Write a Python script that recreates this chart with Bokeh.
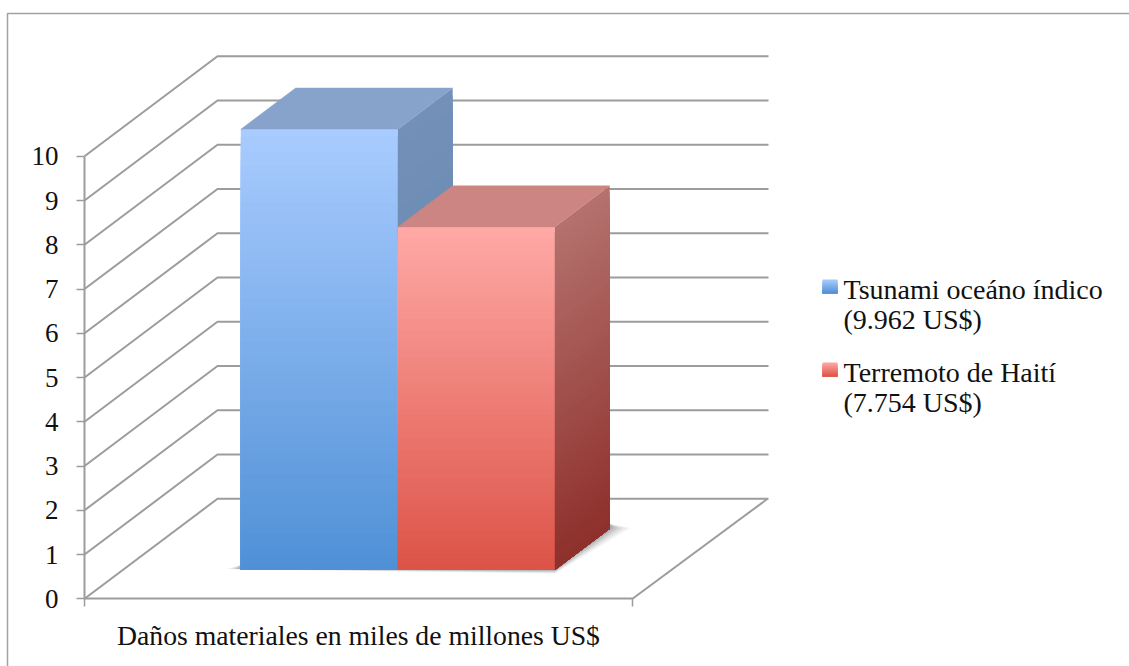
import numpy as np
from bokeh.core.properties import value
from bokeh.embed import file_html
from bokeh.models import FixedTicker, Range1d
from bokeh.plotting import figure
from bokeh.resources import INLINE

# Chart values
series_names = ["Tsunami oceáno índico", "Terremoto de Haití"]
series_amounts = ["(9.962 US$)", "(7.754 US$)"]
series_values = [9.962, 7.754]
category_label = "Daños materiales en miles de millones US$"
y_ticks = [0, 1, 2, 3, 4, 5, 6, 7, 8, 9, 10]

# Layout: pixel scale of the plotting frame
W, H = 1129, 666
PX_X0, PX_Y0 = 84.0, 598.3
PX_PER_X, PX_PER_Y = 548.0, 44.25
FONT = "Liberation Serif"
GRID = "#9c9c9c"
TEXT = "#111111"


def fx(px):
    return (np.asarray(px, dtype=float) - PX_X0) / PX_PER_X


def fy(py):
    return (PX_Y0 - np.asarray(py, dtype=float)) / PX_PER_Y


# Oblique projection of the box depth
DEPTH_X = 133.0 / PX_PER_X
DEPTH_Y = 100.0 / PX_PER_Y
BACK_RIGHT = 1 + 135.0 / PX_PER_X
BAR_LEFT = fx(202.0)
BAR_WIDTH = 157.0 / PX_PER_X
BAR_D0, BAR_D1 = 0.288, 0.70


def hex2rgb(c):
    return np.array([int(c[i:i + 2], 16) for i in (1, 3, 5)], dtype=float)


def mix(a, b, t):
    r = hex2rgb(a) * (1 - t) + hex2rgb(b) * t
    return "#%02x%02x%02x" % tuple(int(round(v)) for v in r)


def proj(x, y, d):
    return x + d * DEPTH_X, y + d * DEPTH_Y


p = figure(
    width=W, height=H, output_backend="svg", toolbar_location=None,
    x_range=Range1d(float(fx(0)), float(fx(W))),
    y_range=Range1d(float(fy(H)), float(fy(0))),
    min_border=0, outline_line_color=None, background_fill_color="white",
    border_fill_color="white",
)
p.grid.visible = False

# Real axes pinned to the front corner of the box
yaxis = p.yaxis[0]
yaxis.fixed_location = 0
yaxis.ticker = FixedTicker(ticks=y_ticks)
yaxis.bounds = (0, 10)
yaxis.axis_line_color = GRID
yaxis.axis_line_width = 2
yaxis.major_tick_line_color = GRID
yaxis.major_tick_line_width = 1.5
yaxis.major_tick_in = 0
yaxis.major_tick_out = 8
yaxis.minor_tick_line_color = None
yaxis.major_label_text_font = FONT
yaxis.major_label_text_font_size = "27px"
yaxis.major_label_text_color = TEXT
yaxis.major_label_standoff = 18

xaxis = p.xaxis[0]
xaxis.fixed_location = 0
xaxis.ticker = FixedTicker(ticks=[0, 1])
xaxis.major_label_overrides = {0: "", 1: ""}
xaxis.bounds = (0, 1)
xaxis.axis_line_color = GRID
xaxis.axis_line_width = 2
xaxis.major_tick_line_color = GRID
xaxis.major_tick_line_width = 1.5
xaxis.major_tick_in = 0
xaxis.major_tick_out = 8
xaxis.minor_tick_line_color = None

# Outer chart border
p.line(fx([7, 7, W]), fy([H, 13, 13]), line_color="#a2a2a2", line_width=1.5)

# Side wall and back wall grid lines, one per tick
for t in y_ticks:
    bx, by = proj(0.0, float(t), 1.0)
    p.line([0, bx, BACK_RIGHT + 1 / PX_PER_X], [t, by, by], line_color=GRID, line_width=2)

# Right edge of the floor
p.line([1, BACK_RIGHT], [0, DEPTH_Y], line_color=GRID, line_width=2)

# Soft contact shadow on the floor
for i, alpha in zip(range(5), [0.06, 0.08, 0.10, 0.14, 0.18]):
    grow = (5 - i) * 3.0
    x0 = BAR_LEFT
    x1 = BAR_LEFT + 2 * BAR_WIDTH
    ax, ay = proj(x0, 0.0, BAR_D0)
    bx, by = proj(x1, 0.0, BAR_D0)
    cx, cy = proj(x1, 0.0, BAR_D1)
    p.patch(
        [ax - grow / PX_PER_X, bx, cx + grow * 1.4 / PX_PER_X, cx, ax],
        [ay + 0.02, by - grow * 0.25 / PX_PER_Y, cy + 0.02, cy + 5 / PX_PER_Y, ay + 5 / PX_PER_Y],
        fill_color="#555555", fill_alpha=alpha, line_color=None,
    )

# Colour stops of each box: front top/bottom, lid, side top/bottom
palettes = [
    ("#a9ccff", "#4f90d6", "#87a3cc", "#7390b8", "#5f85ad"),
    ("#ffa9a6", "#dc5347", "#cc8582", "#b4726e", "#8e2f2b"),
]

# Boxes: each gradient band runs down to the floor and the next one paints over it,
# which keeps the faces free of seams between bands
BANDS = 60
for i, (val, pal) in enumerate(zip(series_values, palettes)):
    x0 = BAR_LEFT + i * BAR_WIDTH
    x1 = x0 + BAR_WIDTH
    front_top, front_bot, lid, side_top, side_bot = pal
    edges = np.linspace(val, 0.0, BANDS + 1)
    ax, ay = proj(x0, 0.0, BAR_D0)
    bx, by = proj(x1, 0.0, BAR_D0)
    ex, ey = proj(x1, 0.0, BAR_D1)
    for k in range(BANDS):
        t = (k + 0.5) / BANDS
        y_hi = edges[k]
        cx, cy = proj(x1, y_hi, BAR_D0)
        dx, dy = proj(x0, y_hi, BAR_D0)
        p.patch([ax, bx, cx, dx], [ay, by, cy, dy], fill_color=mix(front_top, front_bot, t), line_color=None)
        gx, gy = proj(x1, y_hi, BAR_D1)
        p.patch([bx, ex, gx, cx], [by, ey, gy, cy], fill_color=mix(side_top, side_bot, t), line_color=None)
    tx0, ty0 = proj(x0, val, BAR_D0)
    tx1, ty1 = proj(x1, val, BAR_D0)
    tx2, ty2 = proj(x1, val, BAR_D1)
    tx3, ty3 = proj(x0, val, BAR_D1)
    p.patch([tx0, tx1, tx2, tx3], [ty0, ty1, ty2, ty3], fill_color=lid, line_color=lid, line_width=0.4)

# Category caption under the floor
p.text(
    [0.5], fy([635]), text=[category_label], text_font=value(FONT), text_font_size="27.7px",
    text_color=TEXT, text_align="center", text_baseline="middle",
)

# Legend: gradient swatches with two-line entries
legend_rows = [289.0, 372.0]
for name, amount, row, pal in zip(series_names, series_amounts, legend_rows, palettes):
    top = row - 10
    for k in range(12):
        c = mix(pal[0], pal[1], (k + 0.5) / 12)
        p.quad(
            left=fx(822), right=fx(837), top=fy(top + k * 14.0 / 12), bottom=fy(top + 14.0),
            fill_color=c, line_color=None,
        )
    p.text(
        fx([843, 843]), fy([row, row + 30]), text=[name, amount], text_font=value(FONT),
        text_font_size="28px", text_color=TEXT, text_align="left", text_baseline="middle",
    )

open("out.html", "w").write(file_html(p, INLINE))
